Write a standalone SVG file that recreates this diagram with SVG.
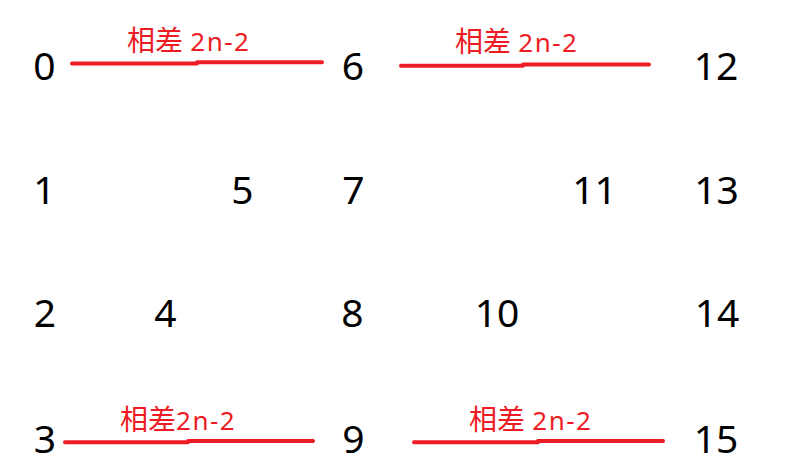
<svg xmlns="http://www.w3.org/2000/svg" width="792" height="469" viewBox="0 0 792 469">
<style>
.n{font-family:"Noto Sans","Open Sans",sans-serif;font-size:39px;fill:#000;text-anchor:middle}
.lb{font-family:"Noto Sans","Noto Sans CJK SC",sans-serif;font-size:28px;fill:#ED1C24}
.lb tspan{font-size:26px;letter-spacing:1.5px}
.ln{stroke:#ED1C24;stroke-width:4;stroke-linecap:round;fill:none}
</style>
<rect width="792" height="469" fill="#fff"/>
<g id="connectors">
<path class="ln" d="M72 63.5H197M197 62.3H322"/>
<path class="ln" d="M401 65.7H523M523 64.4H649"/>
<path class="ln" d="M65 442.3H188M188 441H313"/>
<path class="ln" d="M414 442.3H538M538 441H663"/>
</g>
<g id="labels">
<text class="lb" x="127" y="51">相差 <tspan>2n-2</tspan></text>
<text class="lb" x="455" y="52">相差 <tspan>2n-2</tspan></text>
<text class="lb" x="120" y="430">相差<tspan>2n-2</tspan></text>
<text class="lb" x="469" y="430">相差 <tspan>2n-2</tspan></text>
</g>
<g id="n0"><text class="n" x="44.5" y="80">0</text></g>
<g id="n6"><text class="n" x="353" y="80">6</text></g>
<g id="n12"><text class="n" x="716" y="80">12</text></g>
<g id="n1"><text class="n" x="44.5" y="204">1</text></g>
<g id="n5"><text class="n" x="242.5" y="204">5</text></g>
<g id="n7"><text class="n" x="353.5" y="204">7</text></g>
<g id="n11"><text class="n" x="594.5" y="204">11</text></g>
<g id="n13"><text class="n" x="716.5" y="204">13</text></g>
<g id="n2"><text class="n" x="45" y="327">2</text></g>
<g id="n4"><text class="n" x="165.5" y="327">4</text></g>
<g id="n8"><text class="n" x="352.5" y="327">8</text></g>
<g id="n10"><text class="n" x="497" y="327">10</text></g>
<g id="n14"><text class="n" x="717" y="327">14</text></g>
<g id="n3"><text class="n" x="45" y="452.5">3</text></g>
<g id="n9"><text class="n" x="353.5" y="452.5">9</text></g>
<g id="n15"><text class="n" x="716" y="452.5">15</text></g>
</svg>
